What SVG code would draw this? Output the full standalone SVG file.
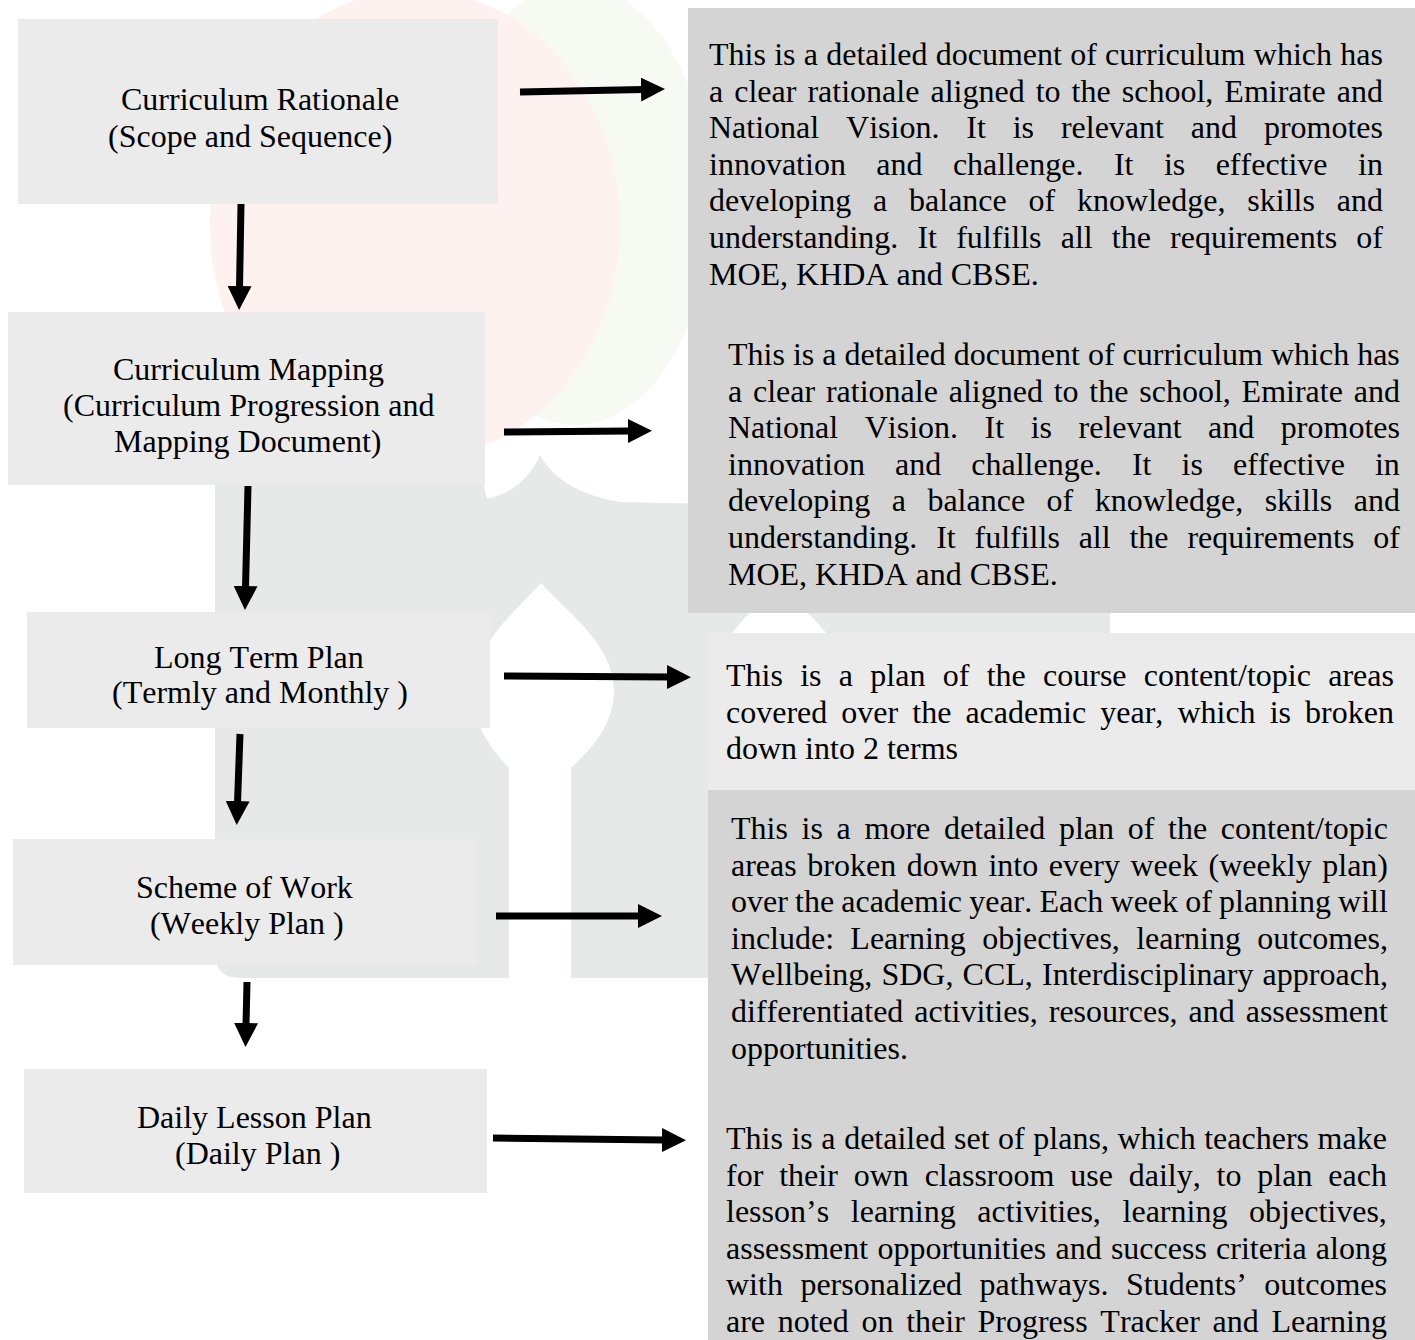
<svg xmlns="http://www.w3.org/2000/svg" width="1415" height="1340" viewBox="0 0 1415 1340">
<defs>
<style>
.t{font-family:"Liberation Serif","Times New Roman",serif;font-size:32px;fill:#000;font-kerning:none;font-variant-ligatures:none}
.lb{fill:#ebebeb}
.db{fill:#d4d4d4}
.cn{stroke:#000;stroke-width:7;fill:none;marker-end:url(#ah)}
</style>
<marker id="ah" markerUnits="userSpaceOnUse" markerWidth="24" markerHeight="24" viewBox="0 0 24 24" refX="2" refY="12" orient="auto">
<path d="M0,0 L24,12 L0,24 Z" fill="#000"/>
</marker>
<path id="drop" d="M541,583 C515,612 473,645 473,690 C473,725 490,748 509,768 L509,990 L571,990 L571,768 C592,748 614,725 614,690 C614,645 567,612 541,583 Z"/>
</defs>
<rect width="1415" height="1340" fill="#fff"/>
<g id="watermark">
<ellipse cx="575" cy="205" rx="135" ry="220" fill="#f6faf3"/>
<ellipse cx="415" cy="225" rx="205" ry="235" fill="#fdf2ef"/>
<path d="M215,470 L480,470 L487,499 Q525,490 540,455 Q560,492 620,502 L1110,512 L1110,978 L240,978 Q215,978 215,953 Z" fill="#e7e8e8"/>
<use href="#drop" fill="#fff"/>
<use href="#drop" fill="#fff" transform="translate(237,0)"/>
</g>
<g id="desc-rationale">
<rect class="db" x="688" y="8" width="727" height="605"/>
<text class="t" x="709" y="65" style="word-spacing:0.26px">This is a detailed document of curriculum which has</text>
<text class="t" x="709" y="101.6" style="word-spacing:3.05px">a clear rationale aligned to the school, Emirate and</text>
<text class="t" x="709" y="138.2" style="word-spacing:18.87px">National Vision. It is relevant and promotes</text>
<text class="t" x="709" y="174.8" style="word-spacing:22.42px">innovation and challenge. It is effective in</text>
<text class="t" x="709" y="211.4" style="word-spacing:13.83px">developing a balance of knowledge, skills and</text>
<text class="t" x="709" y="248" style="word-spacing:11.17px">understanding. It fulfills all the requirements of</text>
<text class="t" x="709" y="284.6">MOE, KHDA and CBSE.</text>
</g>
<g id="desc-mapping">
<text class="t" x="728" y="365" style="word-spacing:0px">This is a detailed document of curriculum which has</text>
<text class="t" x="728" y="401.6" style="word-spacing:2.8px">a clear rationale aligned to the school, Emirate and</text>
<text class="t" x="728" y="438.2" style="word-spacing:18.53px">National Vision. It is relevant and promotes</text>
<text class="t" x="728" y="474.8" style="word-spacing:22.08px">innovation and challenge. It is effective in</text>
<text class="t" x="728" y="511.4" style="word-spacing:13.5px">developing a balance of knowledge, skills and</text>
<text class="t" x="728" y="548" style="word-spacing:10.83px">understanding. It fulfills all the requirements of</text>
<text class="t" x="728" y="584.6">MOE, KHDA and CBSE.</text>
</g>
<g id="desc-longterm">
<rect class="lb" x="708" y="633" width="707" height="157"/>
<text class="t" x="726" y="686" style="word-spacing:9.29px">This is a plan of the course content/topic areas</text>
<text class="t" x="726" y="722.6" style="word-spacing:6.06px">covered over the academic year, which is broken</text>
<text class="t" x="726" y="759.2">down into 2 terms</text>
</g>
<g id="desc-scheme">
<rect class="db" x="708" y="790" width="707" height="550"/>
<text class="t" x="731" y="839" style="word-spacing:5.69px">This is a more detailed plan of the content/topic</text>
<text class="t" x="731" y="875.6" style="word-spacing:2.59px">areas broken down into every week (weekly plan)</text>
<text class="t" x="731" y="912.2" style="word-spacing:-0.85px">over the academic year. Each week of planning will</text>
<text class="t" x="731" y="948.8" style="word-spacing:8.28px">include: Learning objectives, learning outcomes,</text>
<text class="t" x="731" y="985.4" style="word-spacing:1.15px">Wellbeing, SDG, CCL, Interdisciplinary approach,</text>
<text class="t" x="731" y="1022" style="word-spacing:2.95px">differentiated activities, resources, and assessment</text>
<text class="t" x="731" y="1058.6">opportunities.</text>
</g>
<g id="desc-daily">
<text class="t" x="726" y="1149" style="word-spacing:0.57px">This is a detailed set of plans, which teachers make</text>
<text class="t" x="726" y="1185.6" style="word-spacing:7.86px">for their own classroom use daily, to plan each</text>
<text class="t" x="726" y="1222.2" style="word-spacing:13.7px">lesson’s learning activities, learning objectives,</text>
<text class="t" x="726" y="1258.8" style="word-spacing:1.2px">assessment opportunities and success criteria along</text>
<text class="t" x="726" y="1295.4" style="word-spacing:9.5px">with personalized pathways. Students’ outcomes</text>
<text class="t" x="726" y="1332" style="word-spacing:4.67px">are noted on their Progress Tracker and Learning</text>
</g>
<g id="node-rationale">
<rect class="lb" x="18" y="19" width="480" height="185"/>
<text class="t" x="121" y="110">Curriculum Rationale</text>
<text class="t" x="108" y="147">(Scope and Sequence)</text>
</g>
<g id="node-mapping">
<rect class="lb" x="8" y="312" width="477" height="173"/>
<text class="t" x="113" y="380">Curriculum Mapping</text>
<text class="t" x="63" y="416">(Curriculum Progression and</text>
<text class="t" x="114" y="452">Mapping Document)</text>
</g>
<g id="node-longterm">
<rect class="lb" x="27" y="612" width="463" height="116"/>
<text class="t" x="154" y="668">Long Term Plan</text>
<text class="t" x="112" y="703">(Termly and Monthly )</text>
</g>
<g id="node-scheme">
<rect class="lb" x="13" y="839" width="464" height="126"/>
<text class="t" x="136" y="898">Scheme of Work</text>
<text class="t" x="150" y="934">(Weekly Plan )</text>
</g>
<g id="node-daily">
<rect class="lb" x="24" y="1069" width="463" height="124"/>
<text class="t" x="137" y="1128">Daily Lesson Plan</text>
<text class="t" x="175" y="1164">(Daily Plan )</text>
</g>
<g id="connectors">
<line class="cn" x1="520" y1="92" x2="643" y2="89.5"/>
<line class="cn" x1="504" y1="432" x2="630" y2="431"/>
<line class="cn" x1="504" y1="676" x2="669" y2="677"/>
<line class="cn" x1="496" y1="916" x2="640" y2="916"/>
<line class="cn" x1="493" y1="1138" x2="664" y2="1140"/>
<line class="cn" x1="241" y1="204" x2="239.5" y2="288"/>
<line class="cn" x1="248" y1="486" x2="245.5" y2="588"/>
<line class="cn" x1="240" y1="734" x2="237.5" y2="803"/>
<line class="cn" x1="247" y1="982" x2="246" y2="1025"/>
</g>
</svg>
